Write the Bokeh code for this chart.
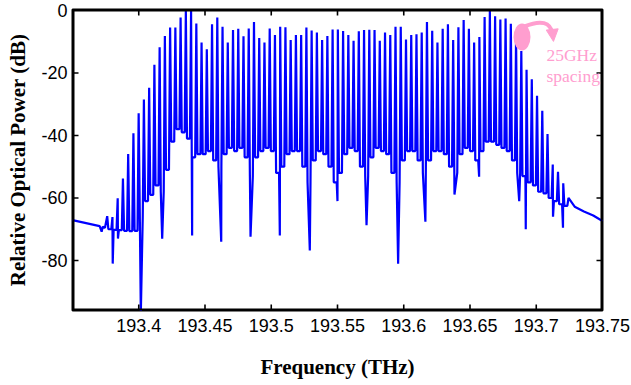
import numpy as np
from bokeh.plotting import figure
from bokeh.models import Range1d, FixedTicker, Label, Arrow, NormalHead, NumeralTickFormatter
from bokeh.embed import file_html
from bokeh.resources import INLINE

# ---------------- data ----------------
comb_start_thz = 193.3762      # first visible comb line
comb_step_thz = 0.003956       # line spacing

peak_db = [
    -65.8, -66.1, -60.1, -53.8, -45.9, -39.3, -32.9, -28.5, -24.7, -17.4,
    -11.8, -8.2, -5.5, -5.5, -2.3, 0.0, 0.0, -4.2, -10.3, -12.4,
    -4.4, -2.3, -5.2, -10.3, -6.3, -5.9, -8.3, -5.8, -3.7, -8.8,
    -10.3, -5.8, -7.9, -5.2, -5.4, -9.5, -7.9, -7.9, -5.5, -6.4,
    -7.1, -9.5, -8.2, -6.1, -6.1, -6.6, -7.9, -9.7, -6.7, -6.3,
    -6.2, -6.3, -9.7, -7.1, -7.9, -5.2, -5.2, -9.3, -7.9, -7.6,
    -7.1, -3.7, -6.5, -10.3, -5.9, -4.4, -9.5, -5.4, -3.1, -5.9,
    -10.3, -8.5, -2.1, -0.2, -1.9, -2.9, -2.6, -4.3, -8.4, -13.0,
    -19.0, -22.0, -27.3, -32.1, -39.5, -49.3, -51.6, -55.3, -60.0,
]

gap_floor_db = [
    -70.0, -70.2, -70.3, -70.5, -70.6, -70.5, -66.0, -61.0, -59.0, -56.0,
    -58.0, -51.0, -42.0, -38.0, -39.0, -41.0, -47.0, -46.0, -46.0, -45.0,
    -48.0, -50.0, -46.0, -44.0, -45.0, -44.0, -47.0, -53.0, -47.0, -45.0,
    -44.0, -45.0, -52.0, -50.0, -46.0, -45.0, -45.0, -50.0, -55.0, -48.0,
    -45.0, -46.0, -50.0, -55.0, -52.0, -46.0, -44.0, -45.0, -50.0, -53.0,
    -47.0, -44.0, -45.0, -46.0, -52.0, -55.0, -48.0, -45.0, -45.0, -48.0,
    -52.0, -48.0, -45.0, -45.0, -46.0, -50.0, -52.0, -46.0, -44.0, -45.0,
    -48.0, -45.0, -42.0, -42.0, -43.0, -44.0, -45.0, -48.0, -52.0, -53.0,
    -55.0, -56.0, -58.0, -58.5, -60.0, -61.0, -62.0, -62.5,
]

dip_gap = [1, 2, 6, 10, 16, 21, 27, 32, 38, 43, 49, 55, 60, 66, 70, 78, 79, 85, 86]
dip_frac = [0.05, 0.05, 0.41, 0.49, 0.2, 0.75, 0.34, 0.93, 0.65, 0.93, 0.47, 0.5,
            0.7, 0.25, 0.95, 0.6, 0.85, 0.05, 0.95]
dip_db = [-81.0, -73.0, -97.0, -73.0, -72.0, -74.0, -72.4, -72.0, -76.8, -61.0,
          -68.7, -81.0, -67.6, -58.9, -53.2, -61.0, -70.0, -66.0, -69.5]

left_base_thz = [193.3500, 193.3705, 193.3720, 193.3728, 193.3745]
left_base_db = [-67.1, -69.0, -70.8, -69.2, -69.5]
right_base_thz = [193.7290, 193.7360, 193.7430, 193.7500]
right_base_db = [-62.8, -64.3, -65.6, -67.4]

x_ticks = [193.4, 193.45, 193.5, 193.55, 193.6, 193.65, 193.7, 193.75]
x_tick_labels = ["193.4", "193.45", "193.5", "193.55", "193.6", "193.65", "193.7", "193.75"]
y_ticks = [-80, -60, -40, -20, 0]
y_tick_labels = ["-80", "-60", "-40", "-20", "0"]

x_lo, x_hi = 193.35, 193.75
y_lo, y_hi = -96.0, 0.3

# ---------------- build trace ----------------
xs = list(left_base_thz)
ys = list(left_base_db)
n = len(peak_db)
for k in range(n):
    fk = comb_start_thz + k * comb_step_thz
    xs.append(fk)
    ys.append(peak_db[k])
    if k < n - 1:
        pts = [(0.22, gap_floor_db[k]), (0.78, gap_floor_db[k])]
        for g, fr, d in zip(dip_gap, dip_frac, dip_db):
            if g == k:
                pts.append((fr, d))
        pts.sort()
        for fr, v in pts:
            xs.append(fk + fr * comb_step_thz)
            ys.append(v)
xs += right_base_thz
ys += right_base_db

# ---------------- figure ----------------
p = figure(width=631, height=385, output_backend="svg", toolbar_location=None,
           x_range=Range1d(x_lo, x_hi), y_range=Range1d(y_lo, y_hi),
           min_border_left=72, min_border_right=29, min_border_top=9, min_border_bottom=75,
           x_axis_label="Frequency (THz)", y_axis_label="Relative Optical Power (dB)")
p.outline_line_color = "black"
p.outline_line_width = 2
p.xgrid.visible = False
p.ygrid.visible = False
p.background_fill_color = "white"
p.border_fill_color = "white"

p.line(xs, ys, line_color="#0000FF", line_width=2.2)

# box edges and inward ticks drawn as thin filled bars
dx = (x_hi - x_lo) / 530.0   # data units per pixel
dy = (y_hi - y_lo) / 301.0
bw, tw, tl = 2.0, 1.6, 6.0
bar_l, bar_r, bar_b, bar_t = [], [], [], []
# edges
bar_l += [x_lo, x_hi - bw * dx, x_lo, x_lo]
bar_r += [x_lo + bw * dx, x_hi, x_hi, x_hi]
bar_b += [y_lo, y_lo, y_lo, y_hi - bw * dy]
bar_t += [y_hi, y_hi, y_lo + bw * dy, y_hi]
# x ticks (bottom and top)
for t in x_ticks[:-1]:
    bar_l += [t - tw / 2 * dx, t - tw / 2 * dx]
    bar_r += [t + tw / 2 * dx, t + tw / 2 * dx]
    bar_b += [y_lo, y_hi - tl * dy]
    bar_t += [y_lo + tl * dy, y_hi]
# y ticks (left and right)
for t in y_ticks[:-1]:
    bar_l += [x_lo, x_hi - tl * dx]
    bar_r += [x_lo + tl * dx, x_hi]
    bar_b += [t - tw / 2 * dy, t - tw / 2 * dy]
    bar_t += [t + tw / 2 * dy, t + tw / 2 * dy]
p.quad(left=bar_l, right=bar_r, bottom=bar_b, top=bar_t,
       fill_color="black", fill_alpha=1.0, line_color=None)

xa = p.xaxis[0]
xa.ticker = FixedTicker(ticks=x_ticks)
xa.formatter = NumeralTickFormatter(format="0.0[0]")
xa.major_label_overrides = dict(zip(x_ticks, x_tick_labels))
ya = p.yaxis[0]
ya.ticker = FixedTicker(ticks=y_ticks)
ya.major_label_overrides = dict(zip(y_ticks, y_tick_labels))
for ax in (xa, ya):
    ax.axis_line_color = None
    ax.major_tick_in = 0
    ax.major_tick_out = 0
    ax.major_tick_line_color = None
    ax.minor_tick_line_color = None
    ax.major_label_text_font = "Liberation Sans"
    ax.major_label_text_font_size = "18px"
    ax.major_label_text_color = "black"
    ax.axis_label_text_font = "Liberation Serif"
    ax.axis_label_text_font_style = "bold"
    ax.axis_label_text_font_size = "21px"
    ax.axis_label_text_color = "black"
xa.major_label_standoff = 8
xa.axis_label_standoff = 20
ya.major_label_standoff = 5
ya.axis_label_standoff = 8

# ---------------- annotation ----------------
pink = "#FF9ECF"
p.ellipse(x=[193.68925], y=[-8.5], width=0.0128, height=8.6,
          fill_color=pink, line_color=None)
p.quadratic(x0=[193.6911], y0=[-5.1], x1=[193.7122], y1=[-7.4],
            cx=[193.7100], cy=[-1.9], line_color=pink, line_width=4)
p.add_layout(Arrow(end=NormalHead(size=12, fill_color=pink, line_color=pink),
                   x_start=193.7122, y_start=-6.7, x_end=193.7130, y_end=-9.9,
                   line_color=pink, line_width=4))
p.add_layout(Label(x=193.7077, y=-14.4, text="25GHz", text_font="Liberation Serif",
                   text_font_size="17.5px", text_color=pink, text_baseline="middle"))
p.add_layout(Label(x=193.7077, y=-21.1, text="spacing", text_font="Liberation Serif",
                   text_font_size="17.5px", text_color=pink, text_baseline="middle"))

open("out.html", "w").write(file_html(p, INLINE))
